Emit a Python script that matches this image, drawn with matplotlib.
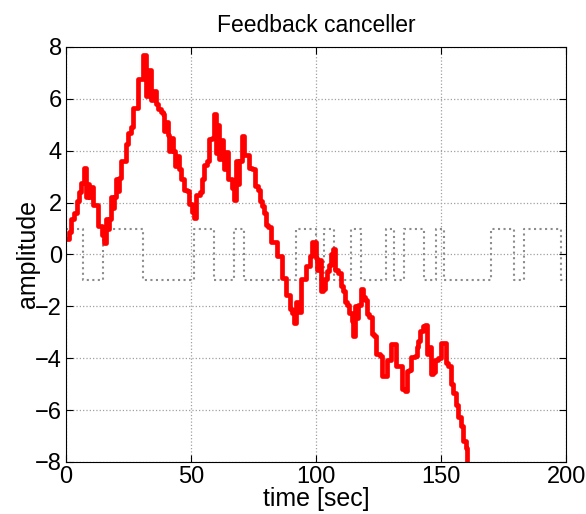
import matplotlib
matplotlib.use("Agg")
import matplotlib.pyplot as plt

plt.rcParams['font.family'] = ['Liberation Sans', 'DejaVu Sans']

# output of feedback canceller (staircase)
t_out = [0, 1.3, 2.0, 3.3, 4.3, 5.1, 6.0, 7.3, 8.0, 8.7, 9.3, 10.0, 10.7, 12.7, 14.4,
         15.3, 16.0, 16.7, 17.3, 18.0, 18.7, 19.3, 20.0, 20.7, 21.3, 22.0, 24.0, 25.0,
         26.0, 27.0, 29.0, 30.9, 32.0, 33.0, 34.0, 35.0, 36.0, 36.7, 38.0, 38.7, 39.3,
         40.0, 40.7, 41.3, 42.0, 42.7, 43.7, 44.3, 45.3, 46.0, 47.3, 48.3, 49.3, 50.4,
         51.1, 52.0, 53.6, 54.3, 55.3, 56.3, 57.2, 58.3, 59.3, 60.0, 60.7, 61.3, 62.0,
         62.6, 63.3, 64.0, 64.9, 66.3, 67.3, 68.0, 68.7, 69.3, 70.3, 71.3, 73.2, 74.4,
         75.6, 76.6, 77.6, 78.3, 79.0, 79.9, 80.9, 82.0, 84.3, 86.3, 87.9, 89.6, 90.3,
         91.2, 91.9, 93.0, 94.0, 95.9, 97.6, 98.3, 99.9, 100.5, 101.2, 102.0, 102.8,
         103.5, 104.2, 105.0, 106.0, 106.7, 107.5, 108.9, 109.9, 110.9, 111.6, 112.5,
         113.3, 114.3, 114.9, 115.6, 116.3, 116.9, 117.9, 118.9, 119.6, 120.3, 121.3,
         122.3, 123.2, 124.0, 125.6, 126.3, 127.6, 128.3, 129.6, 130.0, 131.2, 132.0,
         133.6, 134.3, 135.6, 136.3, 137.3, 137.9, 139.6, 140.3, 140.9, 141.6, 142.9,
         143.6, 144.3, 144.9, 145.9, 146.9, 147.6, 148.9, 149.9, 151.2, 152.0, 152.9,
         153.9, 154.9, 156.0, 156.9, 157.9, 158.9, 159.9, 160.5, 161.0]
y_out = [0.6, 0.85, 1.35, 1.6, 2.05, 2.4, 2.75, 3.35, 2.2, 2.7, 2.2, 2.6, 1.9, 1.1, 0.75,
         0.45, 1.35, 1.0, 1.35, 2.2, 1.8, 2.2, 2.9, 2.45, 2.95, 3.6, 4.25, 4.7,
         4.9, 5.65, 6.75, 7.7, 6.1, 7.1, 5.95, 6.3, 5.8, 5.6, 5.5, 5.4, 4.75,
         5.1, 4.6, 4.0, 4.5, 4.0, 3.4, 3.8, 3.3, 2.9, 2.5, 2.45, 1.95, 1.65,
         1.42, 2.3, 2.4, 2.9, 3.45, 3.6, 4.45, 4.5, 5.4, 3.9, 5.0, 3.7, 4.4,
         3.95, 3.3, 3.95, 2.9, 2.55, 2.1, 3.6, 2.7, 3.6, 4.55, 3.85, 3.35, 3.3,
         2.65, 2.5, 2.05, 1.85, 1.6, 1.15, 1.05, 0.5, -0.05, -0.9, -1.55, -2.1, -2.25,
         -2.65, -1.85, -2.2, -0.95, -0.45, -0.05, 0.5, -0.15, -0.6, -0.2, -1.4, -1.35,
         -0.95, -0.65, -0.4, 0.0, 0.2, -0.6, -0.7, -1.2, -1.4, -1.85, -1.95,
         -2.25, -2.55, -3.15, -2.0, -2.45, -1.95, -1.35, -1.65, -1.75, -2.3, -2.4,
         -3.05, -3.15, -3.85, -3.9, -4.7, -4.7, -4.05, -4.05, -3.45, -3.45, -4.3,
         -4.3, -5.2, -5.27, -4.5, -4.45, -3.95, -3.9, -3.55, -3.35, -2.95, -2.75,
         -2.7, -3.85, -3.55, -4.6, -4.55, -4.05, -4.0, -3.4, -3.4, -4.2, -4.3,
         -5.0, -5.35, -5.8, -6.25, -6.6, -7.2, -7.45, -8.3, -8.3]

# reference square wave (switch times and levels)
t_ref = [0, 7, 15, 31, 51, 59, 67, 71, 92, 100, 103, 107, 114, 118, 128, 131,
         135, 143, 148, 151, 170, 179, 183, 198, 200]
y_ref = [1, -1, 1, -1, 1, -1, 1, -1, 1, -1, 1, -1, 1, -1, 1, -1,
         1, -1, 1, -1, 1, -1, 1, -1, -1]

fig = plt.figure(figsize=(5.86, 5.14), dpi=100)
ax = fig.add_axes([0.1126, 0.1012, 0.8534, 0.8074])

ax.plot(t_ref, y_ref, drawstyle='steps-post', color='#8c8c8c', linestyle=':', linewidth=1.5)
ax.plot(t_out, y_out, drawstyle='steps-post', color='red', linewidth=3.4)

ax.set_xlim(0, 200)
ax.set_ylim(-8, 8)
ax.set_xticks(range(0, 201, 50))
ax.set_yticks(range(-8, 9, 2))
ax.grid(True, linestyle=':', color='#a0a0a0', linewidth=0.9)
ax.tick_params(direction='in', top=True, right=True, labelsize=17, length=5, pad=3)
ax.set_title('Feedback canceller', fontsize=16.5, pad=11)
ax.set_xlabel('time [sec]', fontsize=18, labelpad=-1)
ax.set_ylabel('amplitude', fontsize=18, labelpad=-4)

fig.savefig('out.png', dpi=100)
